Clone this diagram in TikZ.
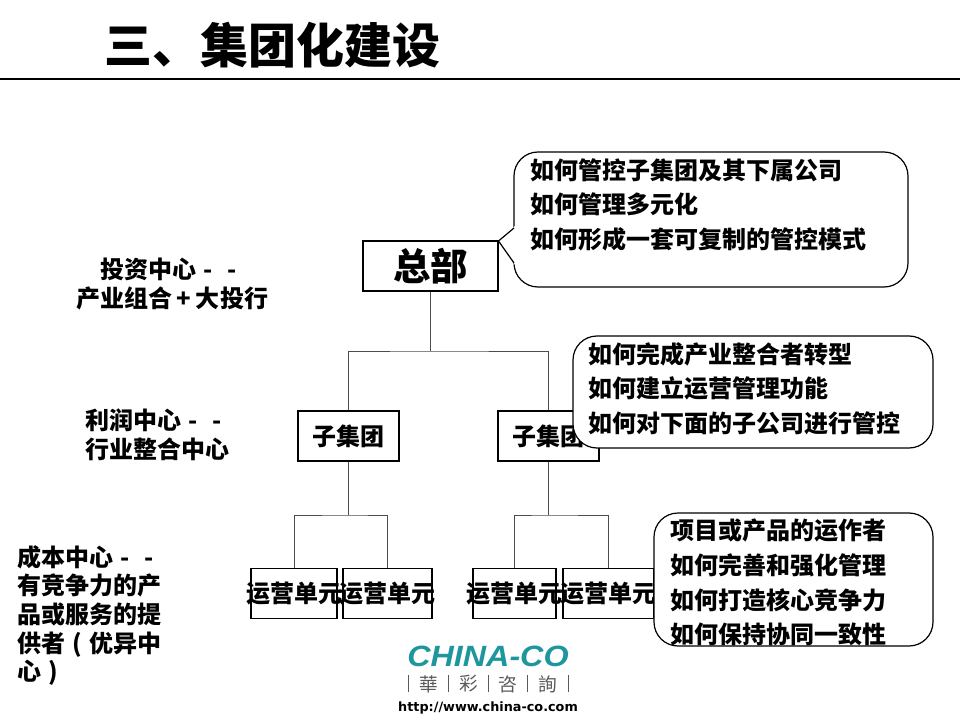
\documentclass[tikz,border=0pt]{standalone}
\usepackage{fontspec}
\setmainfont{Noto Sans CJK SC}
\newfontfamily\latinfont{Liberation Sans}
\newfontfamily\tcfont{Noto Sans CJK TC}
\newfontfamily\urlfont{DejaVu Sans}
\usepackage{tikz}
\usetikzlibrary{positioning,calc}
\definecolor{logoteal}{RGB}{30,150,158}
\definecolor{logogray}{RGB}{90,90,90}
\newcommand{\cellchar}[1]{\makebox[1em][c]{#1}}
\newcommand{\spill}[1]{\makebox[0pt][c]{#1}}
\tikzset{
  big/.style={font=\fontsize{18pt}{25.9pt}\selectfont\bfseries},
  orgbox/.style={draw,fill=white,line width=.8pt,inner sep=0pt,minimum height=50*.75pt,big},
  unitbox/.style={orgbox,fill=none},
  calloutbox/.style={draw,fill=white,rounded corners=18pt,inner sep=0pt,line width=.9pt},
  calloutline/.style={big,align=left,anchor=north west,inner sep=0pt},
  sidelabel/.style={font=\fontsize{18pt}{21.4pt}\selectfont\bfseries,inner sep=0pt},
  logochar/.style={inner sep=0pt,text=logogray,font=\tcfont\fontsize{14pt}{15pt}\selectfont},
  treeline/.style={draw=black!70,line width=.7pt},
  logobar/.style={draw=logogray,line width=.6pt}
}
\begin{document}
\begin{tikzpicture}[x=.75pt,y=-.75pt]
  \useasboundingbox (0,0) rectangle (960,720);
  % title
  \node[inner sep=0pt,font=\fontsize{36pt}{40pt}\selectfont\bfseries] (title) at (272,45) {三、集团化建设};
  \coordinate (ruleL) at (0,79);
  \coordinate (ruleR) at (960,79);
  \draw[line width=1.4pt] (ruleL) -- (ruleR);

  % org boxes
  \node[orgbox,minimum width=135*.75pt,font=\fontsize{28pt}{30pt}\selectfont\bfseries] (hq) at (430.5,266) {总部};
  \node[orgbox,minimum width=101*.75pt] (groupA) at (348.5,436) {子集团};
  \node[orgbox,minimum width=101*.75pt] (groupB) at (548.5,436) {子集团};
  \node[unitbox,minimum width=86*.75pt] (unitA) at (294,593.5) {\spill{运营单元}};
  \node[unitbox,minimum width=89*.75pt] (unitB) at (387.5,593.5) {\spill{运营单元}};
  \node[unitbox,minimum width=83*.75pt] (unitC) at (514.5,593.5) {\spill{运营单元}};
  \node[unitbox,minimum width=91*.75pt] (unitD) at (608.5,593.5) {\spill{运营单元}};

  % tree
  \coordinate (busHQ) at (430.5,351);
  \coordinate (busA) at (348.5,515);
  \coordinate (busB) at (548.5,515);
  \draw[treeline] (hq.south) -- (busHQ);
  \draw[treeline] (groupA.north) |- (busHQ) -| (groupB.north);
  \draw[treeline] (groupA.south) -- (busA);
  \draw[treeline] (groupB.south) -- (busB);
  \draw[treeline] (unitA.north) |- (busA) -| (unitB.north);
  \draw[treeline] (unitC.north) |- (busB) -| (unitD.north);

  % callouts
  \node[calloutbox,minimum width=394*.75pt,minimum height=135*.75pt] (noteHQ) at (711,219.5) {};
  \coordinate (tipHQ) at (498.5,241);
  \fill[white] (515,226) -- (tipHQ) -- (515,265) -- cycle;
  \draw[line width=.9pt] (514,228) -- (tipHQ) -- (514,263);
  \node[calloutbox,minimum width=360*.75pt,minimum height=112*.75pt] (noteGroup) at (753,392) {};
  \node[calloutbox,minimum width=279*.75pt,minimum height=133*.75pt] (noteUnit) at (793.5,579.5) {};

  \node[calloutline] (textHQ) at (530,158) {如何管控子集团及其下属公司\\如何管理多元化\\如何形成一套可复制的管控模式};
  \node[calloutline] (textGroup) at (588,342) {如何完成产业整合者转型\\如何建立运营管理功能\\如何对下面的子公司进行管控};
  \node[calloutline] (textUnit) at (670,519) {项目或产品的运作者\\如何完善和强化管理\\如何打造核心竞争力\\如何保持协同一致性};

  % left labels
  \node[sidelabel,align=center] (labelHQ) at (172,284) {投资中心\cellchar{-}\cellchar{-}\\产业组合\cellchar{+}大投行};
  \node[sidelabel,align=left,anchor=west] (labelGroup) at (85,435) {利润中心\cellchar{-}\cellchar{-}\\行业整合中心};
  \node[sidelabel,align=left,anchor=north west,font=\fontsize{18pt}{21.5pt}\selectfont\bfseries] (labelUnit) at (17,545) {成本中心\cellchar{-}\cellchar{-}\\有竞争力的产\\品或服务的提\\供者\cellchar{(}优异中\\心\cellchar{)}};

  % logo
  \node[inner sep=0pt,text=logoteal] (logoName) at (488,656) {\scalebox{1.1}[1]{\latinfont\bfseries\itshape\fontsize{22pt}{24pt}\selectfont CHINA-CO}};
  \node[logochar] (logoHua) at (429,684) {華};
  \node[logochar] (logoCai) at (469,684) {彩};
  \node[logochar] (logoZi) at (508,684) {咨};
  \node[logochar] (logoXun) at (548,684) {詢};
  \foreach \barx in {408,448,488,527,568}
    \draw[logobar] (\barx,675) -- (\barx,692);
  \node[inner sep=0pt,font=\urlfont\bfseries\fontsize{9.6pt}{12pt}\selectfont] (logoUrl) at (488,708) {http://www.china-co.com};
\end{tikzpicture}
\end{document}
